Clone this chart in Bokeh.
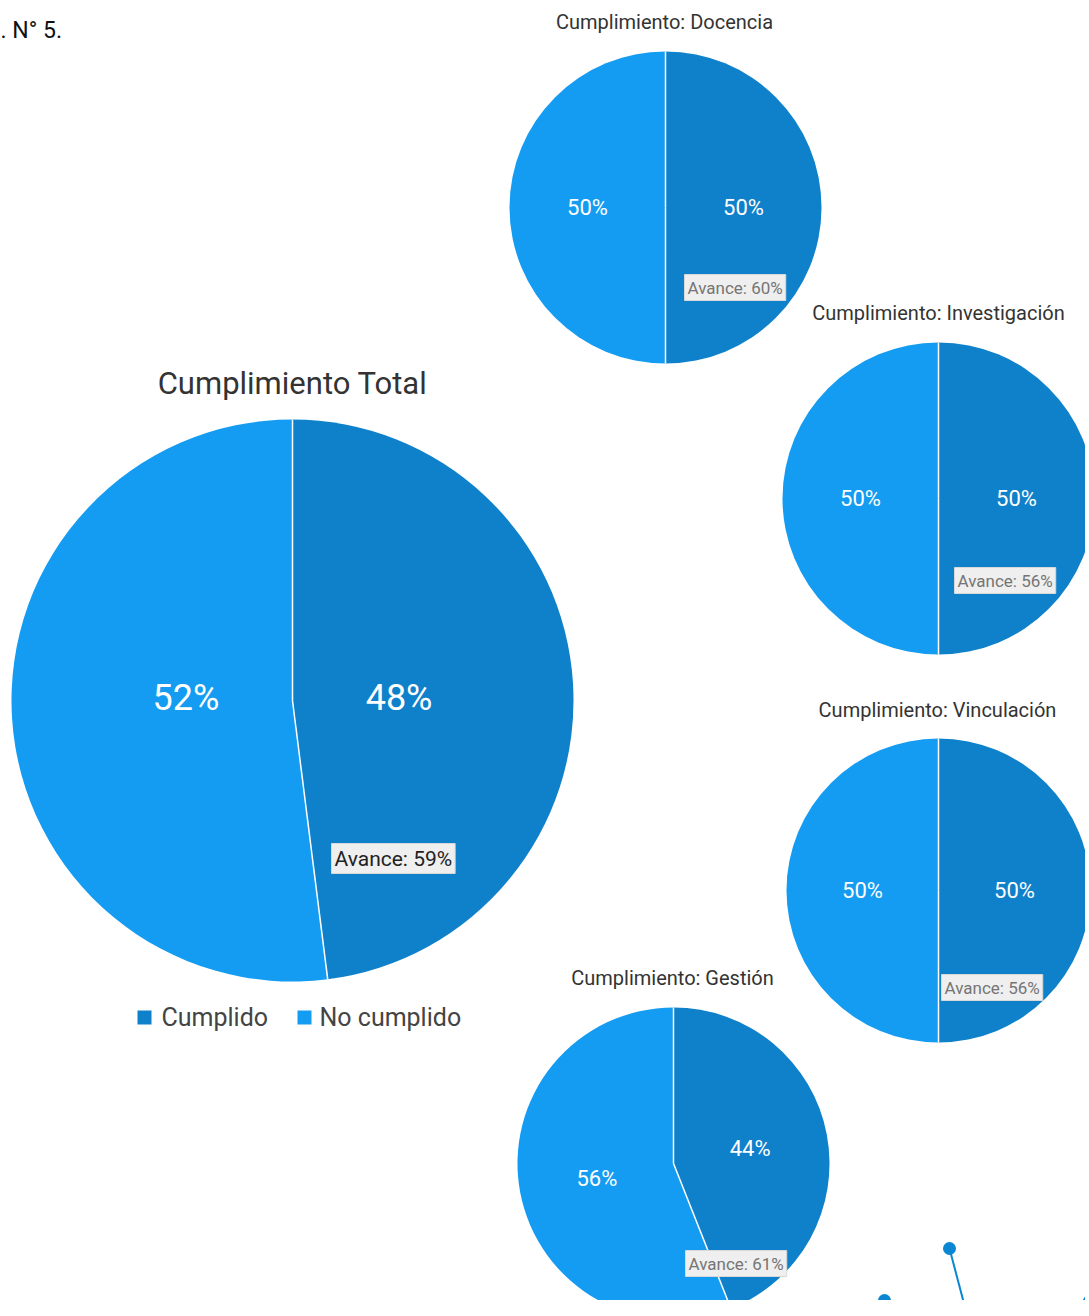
import math
from bokeh.plotting import figure
from bokeh.models import Range1d, Label
from bokeh.core.properties import value
from bokeh.embed import file_html
from bokeh.resources import INLINE

FONT = "Roboto"

# ---------------- data ----------------
chart_titles = ["Cumplimiento Total", "Cumplimiento: Docencia", "Cumplimiento: Investigación",
                "Cumplimiento: Vinculación", "Cumplimiento: Gestión"]
categories = ["Cumplido", "No cumplido"]
cumplido = [48, 50, 50, 50, 44]
no_cumplido = [52, 50, 50, 50, 56]
avance = [59, 60, 56, 56, 61]
heading = ". N° 5."

# ---------------- layout (page pixel coords) ----------------
W, H = 1085, 1300
X0 = 0  # horizontal page offset of the figure
centers = [(292, 700), (665, 207), (938, 498), (938, 890), (673, 1163)]
radii = [281, 156, 156, 152, 156]
title_pos = [(292, 383), (664, 21), (938, 312), (937, 709), (672, 977)]
title_size = ["31px", "20px", "20px", "20px", "20px"]
pct_size = ["36px", "22px", "22px", "22px", "22px"]
label_frac = [0.38, 0.50, 0.50, 0.50, 0.50]
avance_box = [(328, 840), (681, 271), (951, 564), (938, 971), (682, 1247)]
avance_size = ["21px", "17px", "17px", "17px", "17px"]
avance_color = ["#222222", "#757575", "#757575", "#757575", "#757575"]
colors = ["#0f80ca", "#139cf1"]


def sy(py):
    return H + 8 - py


p = figure(width=W, height=H, output_backend="svg", toolbar_location=None,
           x_range=Range1d(X0, W + X0), y_range=Range1d(8, H + 8), min_border=0)
p.axis.visible = False
p.grid.visible = False
p.outline_line_color = None
p.background_fill_color = "white"
p.border_fill_color = "white"

for i in range(len(chart_titles)):
    cx, cy = centers[i]
    r = radii[i]
    vals = [cumplido[i], no_cumplido[i]]
    tot = sum(vals)
    start = math.pi / 2
    for k, v in enumerate(vals):
        end = start - 2 * math.pi * v / tot
        p.wedge(x=[cx], y=[sy(cy)], radius=r, start_angle=[end], end_angle=[start],
                direction="anticlock", fill_color=colors[k], line_color=None)
        mid = (start + end) / 2
        lx = cx + label_frac[i] * r * math.cos(mid)
        ly = sy(cy) + label_frac[i] * r * math.sin(mid)
        if i == 0:
            ly = sy(cy) + 3
        p.text(x=[lx], y=[ly], text=[f"{v}%"], text_color="white",
               text_font=value(FONT), text_font_size=value(pct_size[i]),
               text_align="center", text_baseline="middle")
        start = end
    # separators
    a1 = math.pi / 2
    a2 = math.pi / 2 - 2 * math.pi * cumplido[i] / tot
    p.segment(x0=[cx, cx], y0=[sy(cy), sy(cy)],
              x1=[cx + r * math.cos(a1), cx + r * math.cos(a2)],
              y1=[sy(cy) + r * math.sin(a1), sy(cy) + r * math.sin(a2)],
              line_color="white", line_width=1.5)
    # title
    tx, ty = title_pos[i]
    p.text(x=[tx], y=[sy(ty)], text=[chart_titles[i]], text_color="#333333",
           text_font=value(FONT), text_font_size=value(title_size[i]),
           text_align="center", text_baseline="middle")
    # avance box
    bx, by = avance_box[i]
    p.add_layout(Label(x=bx + 3, y=sy(by + 3), text=f"Avance: {avance[i]}%",
                       text_font=FONT, text_font_size=avance_size[i], text_color=avance_color[i],
                       text_align="left", text_baseline="top",
                       background_fill_color="#efefef", border_line_color="#d8d8d8",
                       padding=3))

# legend
leg_sq = [(144, 1017), (304, 1017)]
leg_tx = [(161, 1017), (319, 1017)]
for k, cat in enumerate(categories):
    p.rect(x=[leg_sq[k][0]], y=[sy(leg_sq[k][1])], width=14, height=14,
           fill_color=colors[k], line_color=None)
    p.text(x=[leg_tx[k][0]], y=[sy(leg_tx[k][1])], text=[cat], text_color="#444444",
           text_font=value(FONT), text_font_size=value("25px"),
           text_align="left", text_baseline="middle")

# heading fragment
p.text(x=[0], y=[sy(30)], text=[heading], text_color="#111111",
       text_font=value(FONT), text_font_size=value("23px"),
       text_align="left", text_baseline="middle")

# decorative lines
deco_c = "#0a86d2"
p.segment(x0=[949, 884, 1090], y0=[sy(1248), sy(1300), sy(1288)],
          x1=[968, 902, 1072], y1=[sy(1320), sy(1320), sy(1320)],
          line_color=deco_c, line_width=2)
p.scatter(x=[949, 884], y=[sy(1248), sy(1300)], size=13, fill_color=deco_c, line_color=None)

open("out.html", "w").write(file_html(p, INLINE))
